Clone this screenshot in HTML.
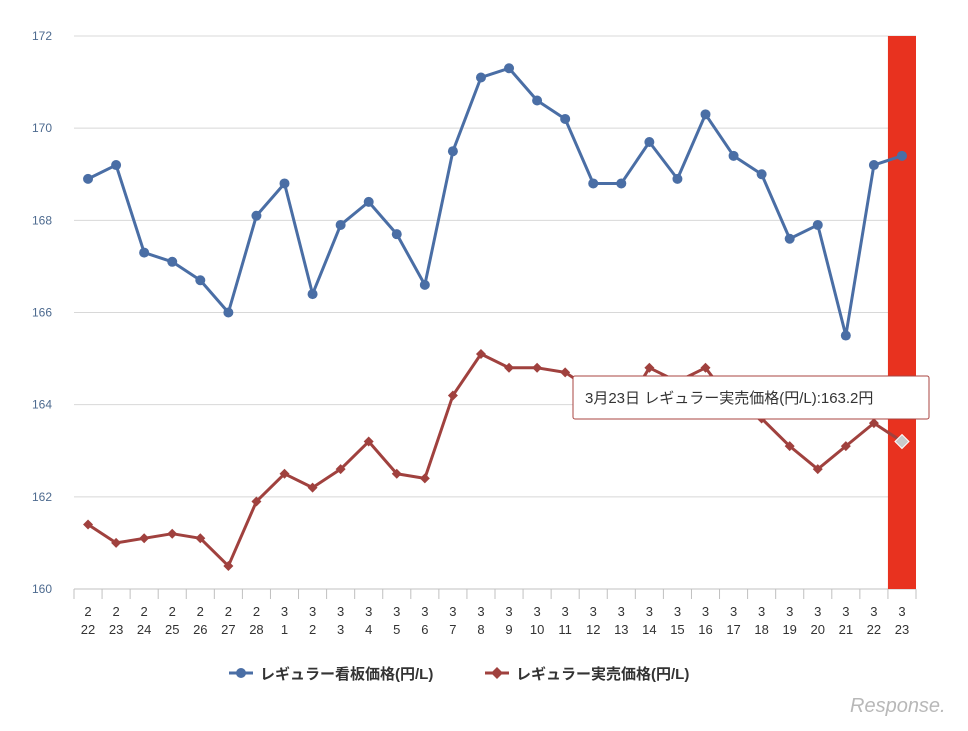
<!DOCTYPE html>
<html><head><meta charset="utf-8">
<style>
body{margin:0;background:#fff;font-family:"Liberation Sans","Noto Sans CJK JP",sans-serif;}
svg text{font-family:"Liberation Sans","Noto Sans CJK JP",sans-serif;}
</style></head>
<body>
<svg id="chart" width="968" height="726" xmlns="http://www.w3.org/2000/svg">
<g id="grid"></g>
<rect id="hl" fill="#e8321f"></rect>
<g id="axes"></g>
<g id="series"></g>
<g>
<rect x="573" y="376" width="356" height="43" rx="2" fill="#fff" stroke="#a94442" stroke-width="1"/>
<text x="585" y="403" font-size="15" fill="#333">3月23日 レギュラー実売価格(円/L):163.2円</text>
</g>
<g>
<g>
<line x1="229" y1="673" x2="253" y2="673" stroke="#4a6ea5" stroke-width="3"/><circle cx="241" cy="673" r="5" fill="#4a6ea5"/>
<text x="260" y="679" font-size="15" font-weight="bold" fill="#333">レギュラー看板価格(円/L)</text></g>
<g>
<line x1="485" y1="673" x2="509" y2="673" stroke="#a0413e" stroke-width="3"/><path d="M497 667 L503 673 L497 679 L491 673Z" fill="#a0413e"/>
<text x="516" y="679" font-size="15" font-weight="bold" fill="#333">レギュラー実売価格(円/L)</text></g>
</g>
<text x="850" y="712" font-size="20" font-style="italic" fill="#b8b8b8">Response.</text>
</svg>
<script>
const months=[2,2,2,2,2,2,2,3,3,3,3,3,3,3,3,3,3,3,3,3,3,3,3,3,3,3,3,3,3,3];
const days=[22,23,24,25,26,27,28,1,2,3,4,5,6,7,8,9,10,11,12,13,14,15,16,17,18,19,20,21,22,23];
const signboard=[168.9,169.2,167.3,167.1,166.7,166.0,168.1,168.8,166.4,167.9,168.4,167.7,166.6,169.5,171.1,171.3,170.6,170.2,168.8,168.8,169.7,168.9,170.3,169.4,169.0,167.6,167.9,165.5,169.2,169.4];
const actual=[161.4,161.0,161.1,161.2,161.1,160.5,161.9,162.5,162.2,162.6,163.2,162.5,162.4,164.2,165.1,164.8,164.8,164.7,164.3,163.8,164.8,164.5,164.8,164.0,163.7,163.1,162.6,163.1,163.6,163.2];
const yTicks=[160,162,164,166,168,170,172];
const NS="http://www.w3.org/2000/svg";
const L=74,R=916,T=36,B=589,yMin=160,yMax=172;
const bw=(R-L)/days.length;
const x=i=>L+bw*(i+0.5);
const y=v=>B-(v-yMin)/(yMax-yMin)*(B-T);
function mk(tag,attrs,parent){const e=document.createElementNS(NS,tag);for(const k in attrs)e.setAttribute(k,attrs[k]);parent.appendChild(e);return e;}
const grid=document.getElementById('grid'),axes=document.getElementById('axes'),ser=document.getElementById('series');
yTicks.forEach(t=>{
 const l=mk('line',{x1:L,x2:R,y1:y(t),y2:y(t),stroke:t===yMin?'#c0c0c0':'#d8d8d8','stroke-width':1},grid);
 
 
 const tx=mk('text',{x:52,y:y(t)+4,'font-size':12,fill:'#4d6a8f','text-anchor':'end'},axes);
 tx.textContent=t;
 
 
});
const last=days.length-1;
const hl=document.getElementById('hl');
hl.setAttribute('x',L+bw*last);hl.setAttribute('y',T);hl.setAttribute('width',bw);hl.setAttribute('height',B-T);
days.forEach((d,i)=>{
 const tk=mk('line',{x1:L+bw*i,x2:L+bw*i,y1:B,y2:B+10,stroke:'#c0c0c0'},axes);
 
 
 const t1=mk('text',{x:x(i),y:B+27,'font-size':13,fill:'#333','text-anchor':'middle'},axes);
 t1.textContent=months[i];
 
 
 const t2=mk('text',{x:x(i),y:B+45,'font-size':13,fill:'#333','text-anchor':'middle'},axes);
 t2.textContent=days[i];
 
 
});
mk('line',{x1:R,x2:R,y1:B,y2:B+10,stroke:'#c0c0c0'},axes);
function line(vals,color,name){
 const p=mk('polyline',{points:vals.map((v,i)=>x(i)+','+y(v)).join(' '),fill:'none',stroke:color,'stroke-width':3,'stroke-linejoin':'round'},ser);
 
 
}
line(signboard,'#4a6ea5','signboard');
line(actual,'#a0413e','actual');
signboard.forEach((v,i)=>{
 const c=mk('circle',{cx:x(i),cy:y(v),r:5,fill:'#4a6ea5'},ser);
 
 
});
actual.forEach((v,i)=>{
 const cx=x(i),cy=y(v),s=i===last?7:5;
 const p=mk('path',{d:`M${cx} ${cy-s} L${cx+s} ${cy} L${cx} ${cy+s} L${cx-s} ${cy}Z`,fill:i===last?'#c9c9c9':'#a0413e',stroke:i===last?'#fff':'none','stroke-width':1},ser);
 
 
});
</script>
</body></html>
